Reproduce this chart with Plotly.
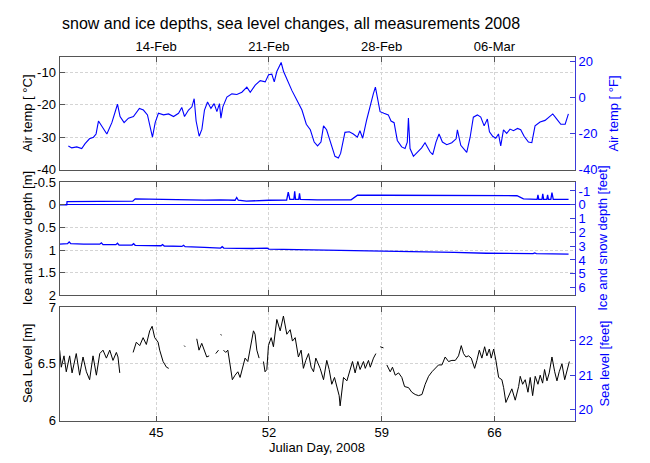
import plotly.graph_objects as go

# ---------------- data ----------------
air_day = [39.55, 39.76, 40.07, 40.38, 40.59, 40.86, 41.11, 41.27, 41.42, 41.63,
           41.94, 42.25, 42.45, 42.60, 42.76, 43.01, 43.28, 43.59, 43.96, 44.21,
           44.46, 44.63, 44.77, 44.94, 45.14, 45.46, 45.77, 46.08, 46.39, 46.59,
           46.76, 47.01, 47.22, 47.36, 47.48, 47.67, 47.84, 48.00, 48.19, 48.40,
           48.60, 48.77, 48.93, 49.02, 49.14, 49.39, 49.70, 50.01, 50.32, 50.63,
           50.84, 51.15, 51.46, 51.77, 51.98, 52.18, 52.33, 52.49, 52.66, 52.76,
           52.91, 53.16, 53.43, 53.74, 54.05, 54.32, 54.57, 54.81, 55.02, 55.23,
           55.39, 55.58, 55.89, 56.10, 56.31, 56.45, 56.72, 56.99, 57.24, 57.49,
           57.65, 57.82, 58.07, 58.28, 58.48, 58.61, 58.79, 58.90, 59.14, 59.41,
           59.58, 59.77, 59.97, 60.24, 60.45, 60.59, 60.66, 60.76, 60.97, 61.22,
           61.48, 61.69, 62.00, 62.17, 62.37, 62.56, 62.77, 63.04, 63.35, 63.62,
           63.70, 63.91, 64.11, 64.28, 64.49, 64.69, 64.94, 65.15, 65.36, 65.56,
           65.69, 65.89, 66.08, 66.25, 66.39, 66.56, 66.76, 66.97, 67.18, 67.43,
           67.63, 67.84, 68.11, 68.32, 68.52, 68.83, 69.14, 69.46, 69.62, 69.87,
           70.12, 70.39, 70.59]
air_temp_c = [-32.7, -33.3, -33.0, -33.5, -32.0, -30.5, -30.0, -29.0, -25.0, -26.5,
              -29.0, -25.5, -22.1, -19.8, -23.6, -25.5, -24.1, -23.6, -21.1, -21.6,
              -23.1, -26.5, -30.0, -25.5, -22.6, -23.1, -22.8, -23.6, -22.6, -20.8,
              -23.6, -21.6, -20.6, -18.1, -25.0, -29.7, -27.5, -21.6, -19.1, -21.1,
              -19.6, -22.1, -19.6, -24.1, -20.6, -17.6, -16.6, -16.8, -16.1, -14.5,
              -16.1, -13.9, -12.5, -12.9, -10.7, -10.5, -12.9, -9.7, -7.7, -6.9,
              -9.7, -12.7, -15.6, -18.6, -21.6, -26.0, -27.7, -31.5, -32.7, -31.5,
              -26.5, -27.7, -32.5, -35.9, -36.4, -35.0, -28.5, -28.3, -29.0, -30.0,
              -28.0, -30.3, -24.6, -20.1, -16.6, -14.5, -18.6, -22.1, -22.6, -23.1,
              -25.0, -25.5, -31.0, -33.0, -33.5, -31.5, -24.1, -33.5, -35.9, -34.5,
              -33.3, -31.7, -34.5, -35.4, -31.5, -29.0, -31.5, -32.3, -31.7, -30.5,
              -27.7, -32.5, -33.7, -34.7, -30.0, -23.8, -23.1, -23.8, -26.5, -24.4,
              -28.3, -29.7, -30.3, -29.0, -32.7, -27.7, -28.8, -27.5, -28.0, -27.3,
              -27.7, -29.7, -31.5, -31.7, -26.5, -25.3, -24.8, -23.6, -22.8, -24.4,
              -26.0, -26.0, -22.8]

snow_day = [39.0, 39.45, 39.47, 41.0, 42.5, 43.55, 43.7, 44.5, 45.0, 47.0,
            48.0, 49.0, 49.9, 50.0, 50.1, 50.6, 51.0, 52.0, 53.1, 53.2,
            53.3, 53.55, 53.6, 53.65, 53.85, 53.9, 53.95, 55.0, 57.1, 57.5,
            59.0, 62.0, 66.0, 67.4, 67.8, 68.5, 68.65, 68.7, 68.75, 68.95,
            69.0, 69.05, 69.25, 69.3, 69.35, 69.5, 69.57, 69.65, 70.6]
snow_surface_m = [0.0, 0.0, -0.07, -0.07, -0.075, -0.08, -0.13, -0.125, -0.11, -0.11,
                  -0.105, -0.11, -0.1, -0.16, -0.1, -0.08, -0.09, -0.1, -0.105, -0.28,
                  -0.12, -0.12, -0.3, -0.12, -0.12, -0.25, -0.12, -0.11, -0.11, -0.21,
                  -0.21, -0.21, -0.21, -0.2, -0.13, -0.12, -0.12, -0.22, -0.12, -0.12,
                  -0.24, -0.12, -0.12, -0.22, -0.12, -0.12, -0.27, -0.12, -0.12]

ice_day = [39.0, 39.5, 39.6, 39.7, 40.5, 41.5, 41.6, 41.7, 42.5, 42.6,
           42.7, 43.5, 43.6, 43.7, 45.3, 45.4, 45.5, 46.6, 46.7, 46.8,
           48.0, 49.0, 49.1, 49.2, 51.0, 51.8, 51.9, 52.0, 54.0, 55.8,
           57.5, 59.3, 61.0, 63.5, 65.5, 67.6, 68.4, 68.5, 68.6, 70.6]
ice_bottom_m = [0.87, 0.86, 0.82, 0.86, 0.87, 0.87, 0.84, 0.88, 0.88, 0.85,
                0.89, 0.89, 0.86, 0.895, 0.905, 0.88, 0.91, 0.92, 0.895, 0.925,
                0.94, 0.955, 0.925, 0.955, 0.965, 0.975, 0.96, 0.98, 0.99, 1.0,
                1.01, 1.02, 1.03, 1.05, 1.07, 1.08, 1.08, 1.065, 1.08, 1.09]

sea_day = [39.01, 39.11, 39.28, 39.42, 39.63, 39.78, 40.04, 40.25, 40.46, 40.67,
           40.87, 41.08, 41.29, 41.50, 41.70, 41.91, 42.12, 42.32, 42.53, 42.63, 42.74, None,
           43.57, 43.77, 43.98, 44.19, 44.39, 44.60, 44.75, 44.91, 45.12, 45.22,
           45.43, 45.64, 45.78, None,
           46.74, 46.80, None,
           47.52, 47.66, 47.83, 48.00, 48.14, 48.29, None,
           48.70, 48.87, None,
           49.01, 49.05, None,
           49.18, 49.32, 49.45, 49.59, 49.73, 49.90, 50.07, 50.21, 50.36, 50.52,
           50.69, 50.83, 50.94, 51.04, 51.14, 51.25, 51.39, None,
           51.66, 51.76, 51.87, 51.97, 52.14, 52.28, 52.49, 52.70, 52.90, 53.11,
           53.32, 53.46, 53.63, 53.83, 54.00, 54.14, 54.29, 54.46, 54.62, 54.77,
           54.91, 55.18, 55.39, 55.59, 55.74, 55.90, 56.07, 56.22, 56.36, 56.42,
           56.63, 56.84, 57.04, 57.19, 57.35, 57.52, 57.66, 57.87, 57.98, 58.18,
           58.29, 58.49, 58.64, None,
           58.91, 59.11, None,
           59.32, 59.53, 59.67, 59.84, 60.05, 60.25, 60.42, 60.67, 60.87, 61.08,
           61.29, 61.50, 61.70, 61.91, 62.12, 62.32, 62.53, 62.74, 62.94, 63.15,
           63.36, 63.57, 63.77, 63.94, 64.08, 64.23, 64.39, 64.56, 64.77, 64.91,
           65.06, 65.22, 65.39, 65.53, 65.68, 65.80, 65.95, 66.09, 66.26, 66.46,
           66.57, 66.71, 66.92, 67.08, 67.29, 67.50, 67.60, 67.75, 67.91, 68.08,
           68.22, 68.37, 68.53, 68.70, 68.84, 68.99, 69.11, 69.26, 69.40, 69.57,
           69.74, 69.88, 70.02, 70.19, 70.36, 70.50, 70.65]
sea_level_m = [6.62, 6.47, 6.57, 6.43, 6.57, 6.42, 6.59, 6.40, 6.56, 6.43,
               6.36, 6.57, 6.40, 6.59, 6.62, 6.55, 6.62, 6.53, 6.60, 6.56, 6.42, None,
               6.60, 6.69, 6.66, 6.73, 6.67, 6.79, 6.83, 6.73, 6.69, 6.62,
               6.52, 6.47, 6.46, None,
               6.66, 6.65, None,
               6.72, 6.62, 6.68, 6.62, 6.56, 6.57, None,
               6.59, 6.62, None,
               6.76, 6.75, None,
               6.62, 6.60, 6.62, 6.47, 6.36, 6.40, 6.43, 6.38, 6.46, 6.55,
               6.52, 6.62, 6.73, 6.79, 6.76, 6.62, 6.55, None,
               6.52, 6.43, 6.45, 6.66, 6.73, 6.65, 6.89, 6.79, 6.92, 6.76,
               6.80, 6.70, 6.73, 6.56, 6.62, 6.46, 6.53, 6.59, 6.47, 6.43,
               6.55, 6.46, 6.36, 6.53, 6.45, 6.32, 6.38, 6.29, 6.22, 6.13,
               6.38, 6.35, 6.46, 6.52, 6.42, 6.52, 6.45, 6.52, 6.46, 6.53,
               6.47, 6.55, 6.59, None,
               6.65, 6.64, None,
               6.49, 6.43, 6.47, 6.40, 6.42, 6.38, 6.30, 6.29, 6.25, 6.23,
               6.22, 6.23, 6.32, 6.39, 6.43, 6.46, 6.49, 6.49, 6.56, 6.52,
               6.53, 6.53, 6.57, 6.66, 6.59, 6.56, 6.57, 6.55, 6.46, 6.53,
               6.62, 6.55, 6.65, 6.57, 6.63, 6.55, 6.63, 6.53, 6.38, 6.36,
               6.29, 6.16, 6.22, 6.28, 6.18, 6.30, 6.39, 6.32, 6.36, 6.25,
               6.38, 6.22, 6.39, 6.32, 6.40, 6.33, 6.45, 6.35, 6.42, 6.56,
               6.43, 6.35, 6.43, 6.50, 6.36, 6.45, 6.52]

day_ticks = [45, 52, 59, 66]
date_labels = ["14-Feb", "21-Feb", "28-Feb", "06-Mar"]
temp_c_ticks = [-40, -30, -20, -10]
temp_f_ticks = [-40, -20, 0, 20]
depth_m_ticks = [-0.5, 0, 0.5, 1, 1.5, 2]
depth_ft_ticks = [-1, 0, 1, 2, 3, 4, 5, 6]
sea_m_ticks = [6, 6.5, 7]
sea_ft_ticks = [20, 21, 22]

# ---------------- helpers ----------------
M2FT = 1 / 0.3048


def c2f(c):
    return c * 9 / 5 + 32


def fmt(v):
    return f"{v:g}"


W, H = 650, 463
FONT = "Liberation Sans, Arial, sans-serif"
BLUE = "#0000ff"
FRAME = "#555555"
GRID = "#d4d4d4"
GRIDDASH = "3px,2px"

x_range = [39, 71]
temp_c_range = [-40, -5.3]
depth_m_range = [2, -0.5]
sea_m_range = [6, 7]

xdom = [59.5 / W, 575 / W]


def ydom(top_px, bot_px):
    return [1 - bot_px / H, 1 - top_px / H]


dom_top = ydom(52, 168)
dom_mid = ydom(181, 298)
dom_bot = ydom(310, 427.5)

fig = go.Figure()

# top panel: air temperature
fig.add_trace(go.Scatter(x=air_day, y=air_temp_c, mode="lines",
                         line=dict(color=BLUE, width=1.1), xaxis="x", yaxis="y",
                         hoverinfo="skip", showlegend=False))
fig.add_trace(go.Scatter(x=air_day, y=[c2f(v) for v in air_temp_c], mode="lines",
                         line=dict(color=BLUE, width=0), opacity=0, xaxis="x", yaxis="y4",
                         hoverinfo="skip", showlegend=False))

# middle panel: snow surface and ice bottom
fig.add_trace(go.Scatter(x=snow_day, y=snow_surface_m, mode="lines",
                         line=dict(color=BLUE, width=1.3), xaxis="x2", yaxis="y2",
                         hoverinfo="skip", showlegend=False))
fig.add_trace(go.Scatter(x=ice_day, y=ice_bottom_m, mode="lines",
                         line=dict(color=BLUE, width=1.3), xaxis="x2", yaxis="y2",
                         hoverinfo="skip", showlegend=False))
fig.add_trace(go.Scatter(x=ice_day, y=[v * M2FT for v in ice_bottom_m], mode="lines",
                         line=dict(color=BLUE, width=0), opacity=0, xaxis="x2", yaxis="y5",
                         hoverinfo="skip", showlegend=False))

# bottom panel: sea level
fig.add_trace(go.Scatter(x=sea_day, y=sea_level_m, mode="lines",
                         line=dict(color="black", width=1), xaxis="x3", yaxis="y3",
                         hoverinfo="skip", showlegend=False))
fig.add_trace(go.Scatter(x=sea_day, y=[None if v is None else v * M2FT for v in sea_level_m],
                         mode="lines", line=dict(color="black", width=0), opacity=0,
                         xaxis="x3", yaxis="y6", hoverinfo="skip", showlegend=False))

tickfont = dict(family=FONT, size=13, color="black")
bluefont = dict(family=FONT, size=13, color=BLUE)

xcommon = dict(range=x_range, domain=xdom, tickvals=day_ticks, showgrid=True,
               gridcolor=GRID, griddash=GRIDDASH, gridwidth=1, showline=True,
               linecolor=FRAME, linewidth=1, mirror="ticks", ticks="inside",
               ticklen=5, tickcolor=FRAME, zeroline=False, tickfont=tickfont)

ycommon = dict(showgrid=True, gridcolor=GRID, griddash=GRIDDASH, gridwidth=1,
               showline=True, linecolor=FRAME, linewidth=1, ticks="inside",
               ticklen=5, tickcolor=FRAME, zeroline=False, tickfont=tickfont)

rcommon = dict(side="right", showgrid=False, showline=True, linecolor="#3a3ad8",
               linewidth=1, ticks="inside", ticklen=5, tickcolor="#3a3ad8",
               zeroline=False, tickfont=bluefont)

fig.update_layout(
    width=W, height=H,
    margin=dict(l=0, r=0, t=0, b=0),
    paper_bgcolor="white", plot_bgcolor="white",
    font=dict(family=FONT, size=13, color="black"),
    showlegend=False,
    xaxis=dict(xcommon, anchor="y", side="top", ticktext=date_labels),
    xaxis2=dict(xcommon, anchor="y2", showticklabels=False),
    xaxis3=dict(xcommon, anchor="y3", ticktext=[fmt(v) for v in day_ticks]),
    yaxis=dict(ycommon, domain=dom_top, anchor="x", range=temp_c_range,
               tickvals=temp_c_ticks, ticktext=[fmt(v) for v in temp_c_ticks]),
    yaxis2=dict(ycommon, domain=dom_mid, anchor="x2", range=depth_m_range,
                tickvals=depth_m_ticks, ticktext=[fmt(v) for v in depth_m_ticks],
                zeroline=True, zerolinecolor=BLUE, zerolinewidth=1),
    yaxis3=dict(ycommon, domain=dom_bot, anchor="x3", range=sea_m_range,
                tickvals=sea_m_ticks, ticktext=[fmt(v) for v in sea_m_ticks]),
    yaxis4=dict(rcommon, overlaying="y", anchor="x",
                range=[c2f(v) for v in temp_c_range],
                tickvals=temp_f_ticks, ticktext=[fmt(v) for v in temp_f_ticks]),
    yaxis5=dict(rcommon, overlaying="y2", anchor="x2",
                range=[v * M2FT for v in depth_m_range],
                tickvals=depth_ft_ticks, ticktext=[fmt(v) for v in depth_ft_ticks]),
    yaxis6=dict(rcommon, overlaying="y3", anchor="x3",
                range=[v * M2FT for v in sea_m_range],
                tickvals=sea_ft_ticks, ticktext=[fmt(v) for v in sea_ft_ticks]),
)


def ann(text, x_px, y_px, angle=0, color="black", size=13, xanchor="center"):
    fig.add_annotation(text=text, x=x_px / W, y=1 - y_px / H, xref="paper", yref="paper",
                       showarrow=False, textangle=angle, xanchor=xanchor, yanchor="middle",
                       font=dict(family=FONT, size=size, color=color))


ann("snow and ice depths, sea level changes, all measurements 2008", 60, 17,
    size=16, xanchor="left")
ann("Air temp [ °C]", 27.5, 110, angle=-90)
ann("Ice and snow depth [m]", 27.5, 239.5, angle=-90)
ann("Sea Level [m]", 27.5, 368.5, angle=-90)
ann("Air temp [ °F]", 613, 110, angle=-90, color=BLUE)
ann("Ice and snow depth [feet]", 603, 239.5, angle=-90, color=BLUE)
ann("Sea level [feet]", 605, 368.5, angle=-90, color=BLUE)
ann("Julian Day, 2008", 317, 455)

fig.write_html("out.html")
